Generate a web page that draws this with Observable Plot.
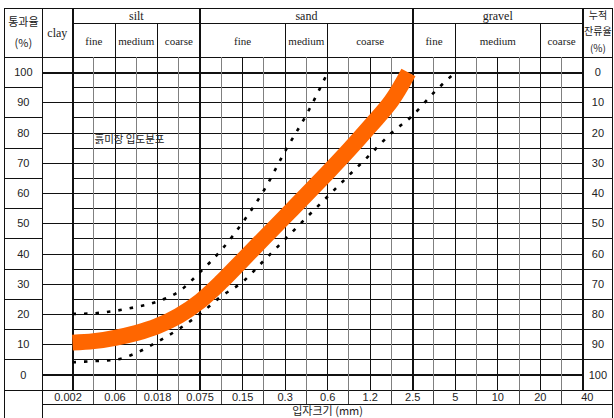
<!DOCTYPE html>
<html><head><meta charset="utf-8">
<script src="https://cdn.jsdelivr.net/npm/d3@7"></script>
<script src="https://cdn.jsdelivr.net/npm/@observablehq/plot@0.6"></script>
<style>html,body{margin:0;padding:0;background:#fff;overflow:hidden}</style>
</head><body><div id="chart"></div>
<script>
// ---- data ----
const sizeLabels = ["0.002","0.06","0.018","0.075","0.15","0.3","0.6","1.2","2.5","5","10","20","40"];
const passingTicks = [100,90,80,70,60,50,40,30,20,10,0];
const retainedTicks = [0,10,20,30,40,50,60,70,80,90,100];
const fractionNames = ["silt","sand","gravel"];
const fractionFrom = [0,3,8];
const fractionTo = [3,8,12];
const subNames = ["fine","medium","coarse","fine","medium","coarse","fine","medium","coarse"];
const subFrom = [0,1,2,3,5,6,8,9,11];
const subTo = [1,2,3,5,6,8,9,11,12];
// curves: x = position on the size scale (label index), y = passing %
const sampleX = [0,0.5,1,1.5,2,2.5,3,3.5,4,4.5,5,5.5,6,6.5,7,7.5,7.9];
const sampleY = [10.7,11.2,12.3,13.9,16.2,19.6,24.4,30.8,38,45.2,52.4,59.6,66.9,74.4,82.3,90.6,100];
const upperX = [0,0.5,1,1.5,2,2.5,3,3.5,4,4.5,5,5.5,6];
const upperY = [20.2,20.4,21.2,22.5,24.3,27.6,34,41.3,50.4,61,74,86,100];
const lowerX = [0,0.5,1,1.5,2,2.5,3,3.5,4,4.5,5,5.5,6,6.5,7,7.5,8,8.5,9];
const lowerY = [4.2,4.6,5.0,7.3,11,15.2,20.2,26,30.8,37.8,44.9,52,59,66,72.9,80,85.8,93.4,100];
const sampleName = "흙미장 입도분포";

// ---- layout (in scale units) ----
const outerLeft = -1.6, clayLeft = -0.7125, rightEdge = 12.71;
const topV = 121.05, rowSepV = 116.1, headV = 105, botV = -5, labBotV = -9.75, edgeV = -14.6;
const nMax = sizeLabels.length - 1;

const toPts = (xs, ys) => xs.map((x, k) => ({x, y: ys[k]}));

// vertical grid
const vRules = [];
for (let c = 0; c <= nMax * 2; c++) {
  const i = c / 2;
  const major = fractionFrom.includes(i) || i === nMax;
  const sub = subFrom.includes(i);
  vRules.push({x: i, y1: botV, y2: major ? topV : sub ? rowSepV : headV,
    w: major ? 2 : 1, s: (c % 2) ? "#808080" : "#111"});
}
[outerLeft, clayLeft, rightEdge].forEach(x => vRules.push({x, y1: edgeV, y2: topV, w: 1, s: "#111"}));
for (let k = 0; k < nMax; k++) vRules.push({x: k + 0.5, y1: labBotV, y2: botV, w: 1, s: "#444"});

// horizontal grid
const hRules = [];
for (let v = 0; v <= 100; v += 5) {
  if (v % 10 === 0) hRules.push({y: v, x1: clayLeft, x2: nMax, w: (v === 0 || v === 100) ? 2 : 1});
  else { hRules.push({y: v, x1: outerLeft, x2: clayLeft, w: 1}); hRules.push({y: v, x1: 0, x2: rightEdge, w: 1}); }
}
hRules.push({y: headV, x1: outerLeft, x2: rightEdge, w: 1});
hRules.push({y: topV, x1: outerLeft, x2: rightEdge, w: 1});
hRules.push({y: rowSepV, x1: 0, x2: nMax, w: 1});
hRules.push({y: botV, x1: outerLeft, x2: rightEdge, w: 1});
hRules.push({y: labBotV, x1: clayLeft, x2: rightEdge, w: 1});

const leftCx = (outerLeft + clayLeft) / 2, rightCx = (nMax + rightEdge) / 2;
const labelCells = sizeLabels.map((t, k) => {
  const a = k === 0 ? clayLeft : k - 0.5, b = k === nMax ? rightEdge : k + 0.5;
  return {x: (a + b) / 2, t};
});

const serif = "'Liberation Serif','DejaVu Serif',serif";
const sans = "'Liberation Sans','DejaVu Sans',sans-serif";
const kr = "'Noto Sans CJK KR','Noto Sans',sans-serif";

const chart = Plot.plot({
  width: 614, height: 418,
  marginLeft: 72, marginRight: 31.7, marginTop: 72, marginBottom: 43.5,
  x: {type: "linear", domain: [0, nMax], axis: null},
  y: {type: "linear", domain: [0, 100], axis: null},
  style: {background: "#fff"},
  marks: [
    Plot.ruleY(hRules, {y: "y", x1: "x1", x2: "x2", stroke: "#111", strokeWidth: "w", shapeRendering: "crispEdges"}),
    Plot.ruleX(vRules, {x: "x", y1: "y1", y2: "y2", stroke: "s", strokeWidth: "w", shapeRendering: "crispEdges"}),
    Plot.line(toPts(upperX, upperY), {x: "x", y: "y", curve: "monotone-x", stroke: "#000", strokeWidth: 2.6, strokeDasharray: "3.5,8", strokeLinecap: "butt"}),
    Plot.line(toPts(lowerX, lowerY), {x: "x", y: "y", curve: "monotone-x", stroke: "#000", strokeWidth: 2.6, strokeDasharray: "3.5,8", strokeLinecap: "butt"}),
    Plot.line(toPts(sampleX, sampleY), {x: "x", y: "y", curve: "catmull-rom", stroke: "#FF6600", strokeWidth: 16, strokeLinecap: "butt", strokeLinejoin: "round"}),
    // tick labels
    Plot.text(passingTicks, {x: leftCx, y: d => d, text: d => String(d), fontSize: 11, fontFamily: sans, fill: "#222"}),
    Plot.text(retainedTicks, {x: rightCx, y: d => 100 - d, text: d => String(d), fontSize: 11, fontFamily: sans, fill: "#222"}),
    Plot.text(labelCells, {x: "x", y: (botV + labBotV) / 2, text: "t", fontSize: 11, fontFamily: sans, fill: "#222"}),
    Plot.text(["입자크기 (mm)"], {x: (clayLeft + rightEdge) / 2, y: -12.1, text: d => d, fontSize: 11, fontFamily: kr, fill: "#222"}),
    // header
    Plot.text(["통과율", "(%)"], {x: leftCx, y: (d, k) => k ? 109.7 : 116.6, text: d => d, fontSize: 11, fontFamily: kr, fill: "#222"}),
    Plot.text(["clay"], {x: clayLeft / 2, y: 113.1, text: d => d, fontSize: 12, fontFamily: serif, fill: "#222"}),
    Plot.text(fractionNames, {x: (d, k) => (fractionFrom[k] + fractionTo[k]) / 2, y: 118.6, text: d => d, fontSize: 12, fontFamily: serif, fill: "#222"}),
    Plot.text(subNames, {x: (d, k) => (subFrom[k] + subTo[k]) / 2, y: 110.3, text: d => d, fontSize: 11, fontFamily: serif, fill: "#222"}),
    Plot.text(["누적", "잔류율", "(%)"], {x: rightCx, y: (d, k) => [118.9, 113.3, 107.8][k], text: d => d, fontSize: 10, fontFamily: kr, fill: "#222"}),
    Plot.text([sampleName], {x: 1.34, y: 77.8, text: d => d, fontSize: 10.5, fontFamily: kr, fill: "#222"})
  ]
});
document.getElementById("chart").appendChild(chart);
</script>
</body></html>
